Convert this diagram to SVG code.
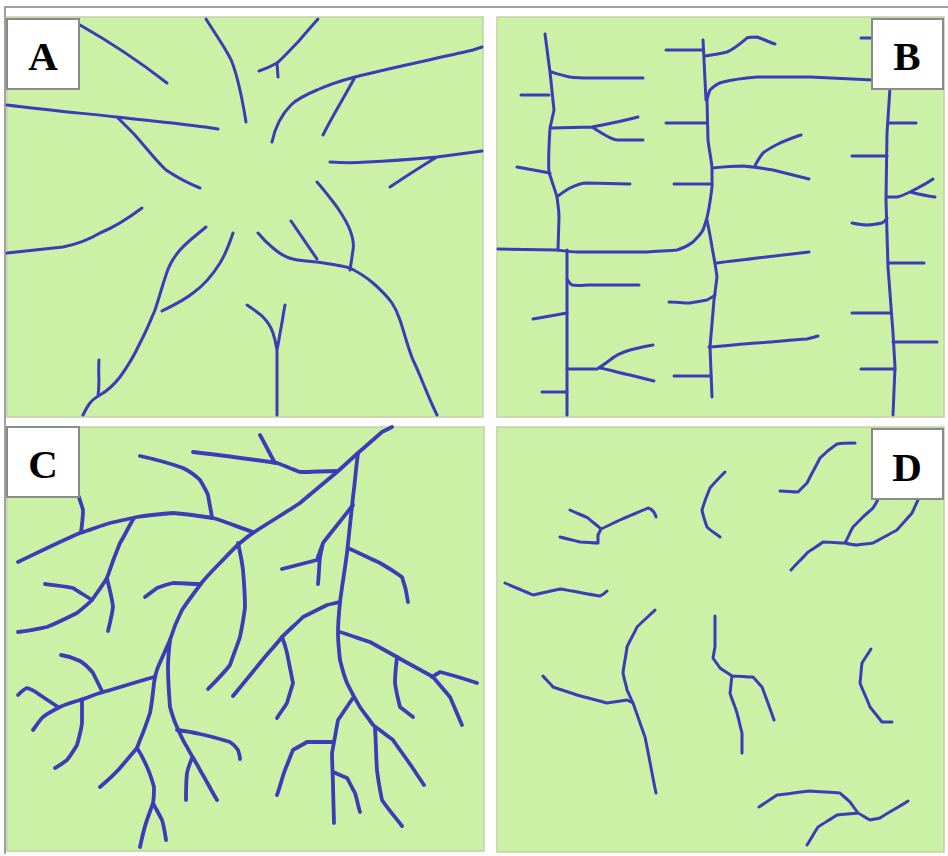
<svg xmlns="http://www.w3.org/2000/svg" width="948" height="856" viewBox="0 0 948 856">
<style>
.panel{fill:#caf1a5;stroke:#c3d0a6;stroke-width:1.5}
.lbl{fill:#fff;stroke:#8a8a8a;stroke-width:2}
.lt{font-family:"Liberation Serif",serif;font-weight:bold;font-size:41px;fill:#000;text-anchor:middle}
.r{fill:none;stroke:#3a3cb8;stroke-width:3;stroke-linecap:round;stroke-linejoin:round}
.rc{stroke-width:3.8}
</style>
<rect width="948" height="856" fill="#fff"/>
<path d="M5,854 V7 H948" fill="none" stroke="#a0a0a0" stroke-width="2"/>

<g id="panelA">
<rect class="panel" x="7" y="17" width="476" height="400"/>
<g class="rivers">
<path class="r" d="M80,25 C110,42 140,62 167,83"/>
<path class="r" d="M206,19 C218,38 228,52 232,62 C238,78 242,97 246,122"/>
<path class="r" d="M318,19 C310,28 304,35 298,42 C290,50 283,58 277,63 C270,67 265,69 259,71 M277,63 L278,77"/>
<path class="r" d="M7,105 C45,110 80,113 117,117 C150,121 190,124 218,129 M117,117 C122,122 128,128 133,133 C145,146 155,160 166,170 C178,178 190,184 200,188"/>
<path class="r" d="M482,47 L473,50 C430,60 390,68 355,77 C340,81 328,85 317,90 C305,95 297,99 291,105 C281,115 275,128 272,142 M355,77 C345,96 333,115 323,135"/>
<path class="r" d="M330,162 C345,163 355,163 367,162 C390,161 415,159 437,157 C452,155 468,153 482,151 M437,157 C420,167 405,177 390,187"/>
<path class="r" d="M7,253 C25,251 45,249 63,247 C78,244 90,239 100,233 C115,227 130,217 142,208"/>
<path class="r" d="M206,227 C195,236 186,243 180,250 C173,258 169,265 166,275 C162,287 159,298 155,310 C150,322 146,332 140,343 C134,356 128,366 120,377 C113,386 107,391 100,395 C95,398 92,400 90,403 C87,407 85,411 83,415 M98,395 C100,385 98,372 99,360"/>
<path class="r" d="M233,233 C229,245 225,255 220,263 C212,276 203,286 193,293 C183,301 172,306 162,311"/>
<path class="r" d="M258,233 C263,239 268,244 273,248 C280,254 287,258 293,259 C300,261 308,261 317,262 C330,264 340,265 350,268 C358,272 366,277 373,283 C381,290 387,296 392,303 C396,309 398,314 400,320 C405,335 408,348 413,360 C417,368 420,376 423,383 C428,395 432,405 437,415"/>
<path class="r" d="M291,221 L317,259"/>
<path class="r" d="M317,182 C325,191 331,199 337,207 C343,216 348,224 350,230 C353,238 354,245 353,250 C352,257 351,264 350,270"/>
<path class="r" d="M247,305 C253,309 259,313 263,317 C268,322 271,327 273,333 C275,339 276,344 277,350 L277,415 M285,305 C283,315 282,324 280,333 C279,340 278,345 277,350"/>
</g>
</g>

<g id="panelB">
<rect class="panel" x="497" y="17" width="447" height="400"/>
<g class="rivers">
<path class="r" d="M545,34 L550,72 L554,110 L550,128 C549,145 548,160 549,172 C552,182 555,190 557,197 C558,205 559,211 559,217 L558,250"/>
<path class="r" d="M498,249 L557,250 C565,251 571,252 577,252 L647,252 C660,251 670,251 677,250 C684,248 689,245 693,242 C697,238 701,234 703,230 C705,224 707,219 708,213 C710,204 711,195 712,187 L712,167 C711,158 709,149 708,140 L707,100 C708,95 709,92 710,90 C714,86 718,83 723,82 C735,79 745,78 757,77 L810,77 C835,78 855,79 873,80"/>
<path class="r" d="M703,40 L706,100"/>
<path class="r" d="M707,220 C709,230 711,240 712,247 C714,258 716,268 717,277 C716,285 715,293 714,300 L710,347 L712,397"/>
<path class="r" d="M567,250 L567,415"/>
<path class="r" d="M890,88 L887,133 L886,200 L888,267 L893,333 L895,367 L893,415"/>
<path class="r" d="M551,72 C558,74 564,76 570,77 C577,78 583,78 590,78 L643,78"/>
<path class="r" d="M521,95 L549,95"/>
<path class="r" d="M552,128 L592,127 C608,124 623,121 638,117 M592,127 C597,130 601,133 605,135 C610,138 614,140 618,140 L643,140"/>
<path class="r" d="M517,167 L550,173"/>
<path class="r" d="M558,196 C562,193 566,190 570,188 C576,185 581,183 587,183 L630,184"/>
<path class="r" d="M666,50 L703,50"/>
<path class="r" d="M705,56 C712,55 719,54 727,52 C734,49 741,43 747,38 C750,37 754,37 757,37 C763,39 769,42 775,44"/>
<path class="r" d="M666,123 L707,123"/>
<path class="r" d="M712,168 C722,167 733,166 743,166 C753,167 763,168 773,170 C785,173 797,176 809,179 M755,166 C757,161 760,157 763,153 C768,149 774,146 780,143 C787,140 794,137 801,135"/>
<path class="r" d="M674,184 L712,184"/>
<path class="r" d="M567,279 C569,282 570,284 572,285 C578,286 584,285 590,285 L639,285"/>
<path class="r" d="M533,319 L567,313"/>
<path class="r" d="M567,369 L597,369 C602,366 606,363 610,360 C616,355 623,352 630,350 C638,348 646,346 653,345 M600,368 C610,370 620,373 630,375 C638,377 646,379 654,381"/>
<path class="r" d="M542,392 L567,392"/>
<path class="r" d="M717,263 C730,261 744,260 757,258 C775,256 792,254 809,252"/>
<path class="r" d="M669,302 C676,302 683,303 690,303 C696,302 702,301 707,300 C710,298 713,297 715,295"/>
<path class="r" d="M709,347 C725,346 741,344 757,343 C774,342 790,340 807,339 C811,338 815,337 818,336"/>
<path class="r" d="M674,376 L711,376"/>
<path class="r" d="M861,38 L872,38"/>
<path class="r" d="M888,123 L916,123"/>
<path class="r" d="M852,156 L887,156"/>
<path class="r" d="M887,197 L897,197 C902,196 906,194 910,192 C918,188 926,184 933,179 M910,192 C918,194 927,196 935,197"/>
<path class="r" d="M852,223 C857,224 862,225 867,225 C872,225 877,224 882,223 C884,222 886,220 887,218"/>
<path class="r" d="M889,263 L924,263"/>
<path class="r" d="M852,313 L891,313"/>
<path class="r" d="M893,342 L937,342"/>
<path class="r" d="M861,369 L895,369"/>
</g>
</g>

<g id="panelC">
<rect class="panel" x="7" y="427" width="477" height="424"/>
<g class="rivers">
<path class="r rc" d="M392,427 L382,432 C374,439 366,446 358,453 C351,459 344,466 337,472 C325,482 312,493 300,503 C285,513 268,523 253,533 C248,536 244,540 240,543 C233,549 227,556 220,563 C213,570 206,577 200,585 C194,593 188,601 182,610 C177,620 173,630 170,640 C166,649 162,658 158,667 C156,672 155,677 154,683 C153,693 152,703 150,713 C147,722 144,731 140,740 L137,748 C131,755 126,761 120,768 C114,775 107,781 100,787"/>
<path class="r rc" d="M137,748 C141,754 144,760 147,767 C150,773 152,780 154,787 C154,792 154,798 153,803 C151,809 149,814 147,820 C144,828 142,838 140,847 M153,803 C156,809 159,814 162,820 C164,826 165,833 166,840"/>
<path class="r rc" d="M170,640 C169,649 168,658 168,667 C168,680 169,694 170,707 C172,714 174,721 177,727 C180,734 183,741 187,747 C191,755 196,762 200,770 C206,780 211,790 217,800"/>
<path class="r rc" d="M177,730 C185,731 192,732 200,734 C210,736 220,739 230,742 C233,744 236,747 238,750 C239,753 240,756 240,759"/>
<path class="r rc" d="M192,758 C190,763 188,768 187,773 C186,782 186,791 186,800"/>
<path class="r rc" d="M154,677 C136,682 118,688 100,693 C93,695 87,698 80,700 C73,702 66,704 60,707 C54,710 48,713 43,717 C39,721 36,726 33,730"/>
<path class="r rc" d="M102,691 C99,685 96,679 93,673 C89,668 85,664 80,661 C74,658 68,656 61,655"/>
<path class="r rc" d="M58,707 C52,703 46,699 40,695 C36,692 31,689 27,688 C24,689 21,692 18,695"/>
<path class="r rc" d="M82,700 L82,723 C81,731 79,738 77,745 C74,750 71,755 67,760 C63,763 59,766 55,768"/>
<path class="r rc" d="M199,584 C190,584 182,583 173,583 C168,584 162,586 157,588 C153,591 149,594 145,597"/>
<path class="r rc" d="M238,543 C240,552 242,561 243,570 C244,582 245,595 245,607 C244,617 242,627 240,637 C237,646 233,656 230,665 C224,673 216,681 208,689"/>
<path class="r rc" d="M253,532 C240,528 227,522 213,518 C200,516 187,514 173,513 C161,514 149,515 137,517 C128,519 119,521 110,523 C100,526 90,530 80,533 C59,542 39,552 18,562"/>
<path class="r rc" d="M212,518 C211,510 209,502 208,495 C206,490 203,485 200,480 C195,475 189,471 183,468 C169,463 154,459 140,456"/>
<path class="r rc" d="M79,497 C80,501 82,506 83,510 C83,517 82,525 81,532"/>
<path class="r rc" d="M134,518 C129,526 125,535 120,543 C115,555 111,566 107,578 C102,586 97,593 92,600 C87,605 82,609 77,613 C67,618 57,623 47,627 C37,629 28,631 18,632"/>
<path class="r rc" d="M107,578 C109,588 112,597 113,607 C112,615 110,623 108,631"/>
<path class="r rc" d="M92,600 C86,596 79,592 73,588 C64,586 54,585 45,584"/>
<path class="r rc" d="M337,471 C325,471 312,472 300,472 C292,469 285,466 277,463 C249,459 221,455 193,452 M275,463 C270,454 265,444 260,435"/>
<path class="r rc" d="M358,453 C356,468 355,482 353,497 C351,516 349,534 347,553 C345,569 342,586 340,602 C339,612 338,623 338,633 C338,642 339,651 340,660 C342,668 344,676 347,683 C351,691 355,699 360,707 C364,713 369,719 373,725 C380,730 386,735 393,740 C399,749 406,758 412,767 C416,773 420,779 424,785"/>
<path class="r rc" d="M353,505 C343,518 333,530 323,543 C321,549 319,554 317,560 C305,563 294,566 282,569 M323,543 C322,548 321,552 320,557 C319,566 319,575 318,584"/>
<path class="r rc" d="M348,548 C359,553 369,558 380,563 C387,567 395,572 402,577 C405,585 407,594 408,602"/>
<path class="r rc" d="M340,602 C336,603 331,604 327,605 C319,609 311,613 303,617 C296,624 289,630 282,637 C275,646 267,654 260,663 C251,674 242,685 233,696"/>
<path class="r rc" d="M282,637 C284,642 286,648 287,653 C289,663 291,673 293,683 C291,690 289,696 287,703 C284,708 280,713 277,718"/>
<path class="r rc" d="M340,632 C350,635 360,639 370,642 C379,647 388,652 397,657 C409,664 421,670 433,677 C439,684 444,690 450,697 C454,706 458,716 462,725"/>
<path class="r rc" d="M397,657 C396,666 395,674 395,683 C396,691 398,699 400,707 C404,710 409,714 413,717"/>
<path class="r rc" d="M432,677 C435,675 437,674 440,672 C452,675 465,679 477,683"/>
<path class="r rc" d="M353,698 C348,705 343,713 338,720 C336,731 334,742 332,753 C332,764 333,776 333,787 L334,823"/>
<path class="r rc" d="M332,742 C324,742 315,742 307,742 C302,745 298,747 293,750 C290,757 288,763 285,770 C282,778 280,787 277,795"/>
<path class="r rc" d="M333,772 C338,774 342,776 347,778 C350,783 352,788 355,793 C357,799 358,806 360,812"/>
<path class="r rc" d="M375,728 C376,742 376,756 377,770 C378,780 380,790 382,800 C388,809 395,817 402,826"/>
</g>
</g>

<g id="panelD">
<rect class="panel" x="497" y="427" width="447" height="425"/>
<g class="rivers">
<path class="r" d="M780,491 C786,491 792,492 798,492 C801,489 804,486 807,483 C811,475 816,466 820,458 C825,453 831,448 837,444 C843,443 849,443 855,443"/>
<path class="r" d="M725,472 C720,477 715,482 710,488 C707,495 704,503 702,510 C703,516 705,521 707,527 C711,531 716,534 720,537"/>
<path class="r" d="M570,510 C576,513 582,515 588,518 C592,522 597,525 601,529 C607,526 614,523 620,520 C629,516 639,512 648,508 C652,509 655,513 656,517 M601,529 C600,531 599,533 598,535 L598,543 C592,543 586,542 580,542 C573,540 567,539 560,537"/>
<path class="r" d="M505,583 C514,587 524,591 533,595 C542,593 551,591 560,589 C573,591 587,594 600,596 C603,595 605,593 607,591"/>
<path class="r" d="M791,570 C796,564 802,559 807,553 C812,549 818,546 823,542 C830,542 838,543 845,543 C849,544 853,545 857,545 C862,544 868,544 873,543 C881,539 889,534 897,530 C902,524 907,519 912,513 C914,509 916,504 918,500 M845,543 C848,538 850,532 853,527 C856,524 860,520 863,517 C866,514 870,511 873,508 C875,505 877,502 878,499"/>
<path class="r" d="M655,610 C649,616 643,621 637,627 C634,634 630,640 627,647 C626,656 624,664 623,673 C624,679 626,684 627,690 C629,694 631,699 633,703 C637,714 641,726 645,737 C649,756 652,774 656,793 M543,676 C546,680 550,683 553,687 C561,690 569,692 577,695 C587,698 597,700 607,703 C614,702 620,701 627,700 C629,701 631,702 633,703"/>
<path class="r" d="M715,616 L715,647 C714,651 714,654 713,658 C715,661 718,665 720,668 C724,671 728,673 732,676 C739,676 746,677 753,677 C756,680 759,684 762,687 C764,692 766,698 768,703 C770,709 772,714 774,720 M732,676 C731,682 731,687 730,693 C732,700 735,706 737,713 C739,720 740,726 742,733 L742,753"/>
<path class="r" d="M871,649 C868,654 865,658 862,663 C861,670 861,676 860,683 C863,691 867,699 870,707 C874,712 878,717 882,722 C885,722 889,722 892,722"/>
<path class="r" d="M759,807 C765,803 771,799 777,795 C788,794 799,792 810,791 C820,792 830,792 840,793 C843,796 847,799 850,802 C853,806 855,809 858,813 C862,815 866,818 870,820 C873,819 877,819 880,818 C889,812 899,807 908,801 M858,813 C851,814 844,814 837,815 C831,819 824,823 818,827 C814,833 811,839 807,845"/>
</g>
</g>

<g id="labelA"><rect class="lbl" x="7" y="19" width="72" height="70"/><text class="lt" x="43" y="70">A</text></g>
<g id="labelB"><rect class="lbl" x="872" y="19" width="71" height="70"/><text class="lt" x="907" y="70">B</text></g>
<g id="labelC"><rect class="lbl" x="7" y="427" width="72" height="70"/><text class="lt" x="43" y="478">C</text></g>
<g id="labelD"><rect class="lbl" x="872" y="429" width="71" height="70"/><text class="lt" x="907" y="481">D</text></g>
</svg>
